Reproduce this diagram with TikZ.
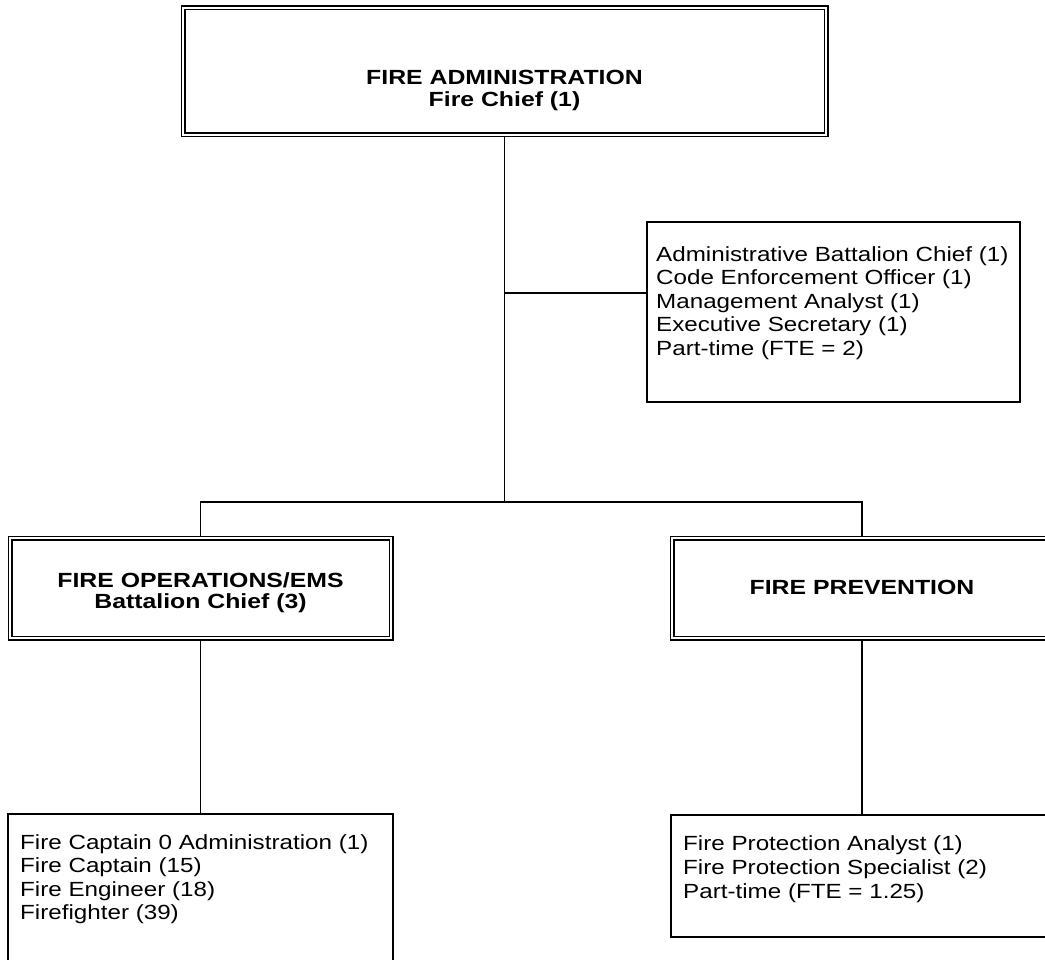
\documentclass[tikz,border=0pt]{standalone}
\usepackage{fontspec}
\setmainfont{Liberation Sans}
\newfontfamily\bodyfont[FakeStretch=1.18]{Liberation Sans}
\newfontfamily\headfont[FakeStretch=1.21]{Liberation Sans}
\begin{document}
\begin{tikzpicture}[x=1pt,y=-1pt,
  dbox/.style={draw, double, double distance=2.6pt, line width=1.2pt, inner sep=0pt, rectangle},
  sbox/.style={draw, line width=1.3pt, inner sep=0pt, rectangle},
  link/.style={line width=1.3pt},
  headtxt/.style={anchor=north, inner sep=0pt, align=center, font=\headfont\bfseries\fontsize{20.5}{21.5}\selectfont},
  bodytxt/.style={anchor=north west, inner sep=0pt, align=left, font=\bodyfont\fontsize{20.5}{23.6}\selectfont}]
\useasboundingbox (0,0) rectangle (1045,960);
\clip (0,0) rectangle (1045,960);
% boxes
\node[dbox, minimum width=643pt, minimum height=127pt] (top) at (504.5,71.5) {};
\node[sbox, minimum width=373pt, minimum height=180pt] (admin) at (833.5,312) {};
\node[dbox, minimum width=381pt, minimum height=100pt] (ops) at (200.5,588) {};
\node[dbox, minimum width=380pt, minimum height=100pt] (prev) at (862,588) {};
\node[sbox, minimum width=385pt, minimum height=156pt] (opsstaff) at (200.5,892) {};
\node[sbox, minimum width=382pt, minimum height=122pt] (prevstaff) at (862,876) {};
% texts
\node[headtxt] (toptxt) at (504.5,70) {FIRE ADMINISTRATION\\Fire Chief (1)};
\node[headtxt] (opstxt) at (200.5,572) {FIRE OPERATIONS/EMS\\Battalion Chief (3)};
\node[headtxt] (prevtxt) at (862,580) {FIRE PREVENTION};
\node[bodytxt] (admintxt) at (656,246) {Administrative Battalion Chief (1)\\Code Enforcement Officer (1)\\Management Analyst (1)\\Executive Secretary (1)\\Part-time (FTE = 2)};
\node[bodytxt] (opsstafftxt) at (20,834) {Fire Captain 0 Administration (1)\\Fire Captain (15)\\Fire Engineer (18)\\Firefighter (39)};
\node[bodytxt] (prevstafftxt) at (683,835) {Fire Protection Analyst (1)\\[0.8pt]Fire Protection Specialist (2)\\[0.8pt]Part-time (FTE = 1.25)};
% connectors
\coordinate (j1) at (504.5,293);
\coordinate (j2) at (504.5,502);
\draw[link] (top.south) -- (j2);
\draw[link] (j1) -- (j1 -| admin.west);
\draw[link] (ops.north) |- (j2) -| (prev.north);
\draw[link] (ops.south) -- (opsstaff.north);
\draw[link] (prev.south) -- (prevstaff.north);
\end{tikzpicture}
\end{document}
